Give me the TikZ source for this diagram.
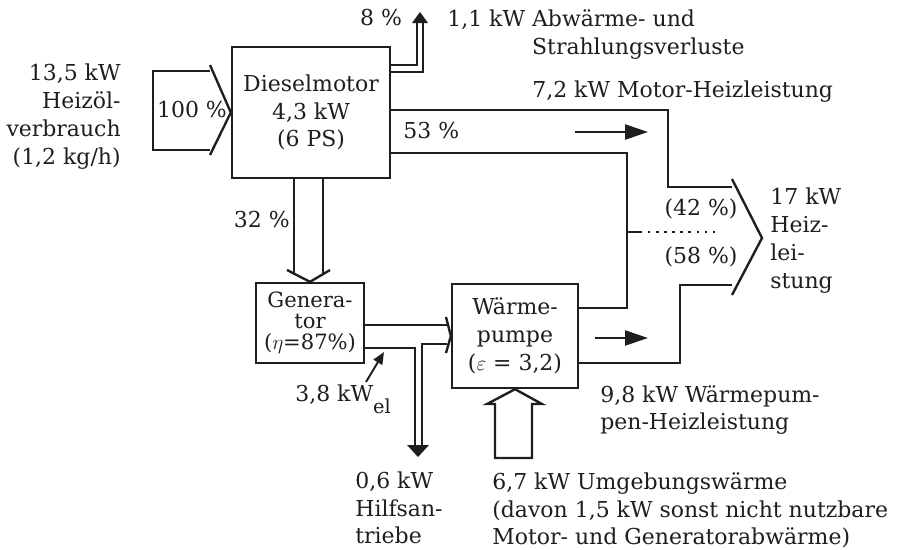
\documentclass[tikz,border=0pt]{standalone}
\usepackage{fontspec}
\setmainfont{DejaVu Serif}
\usepackage{tikz}
\usetikzlibrary{arrows.meta,positioning}
\definecolor{figInk}{HTML}{1E1E1E}

\begin{document}
\begin{tikzpicture}[x=0.02cm, y=-0.02cm,
  every node/.style={font=\fontsize{12.5}{15.8}\selectfont, text=figInk, inner sep=0pt},
  flow/.style={line width=1.35pt, draw=figInk},
  box/.style={draw=figInk, line width=1.35pt, align=center},
  note/.style={align=left},
  pfeil/.style={-{Triangle[length=4.6mm,width=3mm]}, line width=1.3pt, draw=figInk},
  zeiger/.style={-{Triangle[length=2.4mm,width=2mm]}, line width=1.1pt, draw=figInk},
]

\fill[white] (0,0) rectangle (905,549);
\useasboundingbox (0,0) rectangle (905,549);

% Boxes
\node[box, minimum width=3.16cm, minimum height=2.62cm] (motor) at (311,112.5)
  {Dieselmotor\\4,3 kW\\(6 PS)};
\node[box, minimum width=2.16cm, minimum height=1.6cm,
  font=\fontsize{12}{12}\selectfont] (gen) at (310,323)
  {Genera-\\tor\\($\eta$=87\%)};
\node[box, minimum width=2.52cm, minimum height=2.08cm] (hp) at (515,336)
  {Wärme-\\pumpe\\($\varepsilon$ = 3,2)};

% Fuel input
\draw[flow] (210,71) -- (153,71) -- (153,150) -- (210,150);
\draw[flow] (210,65) -- (motor.west) -- (210,155);
\node[anchor=base] (fuelpct) at (192,117) {100 \%};
\node[note, anchor=east, align=right] (fuel) at (121,116.5)
  {13,5 kW\\Heizöl-\\verbrauch\\(1,2 kg/h)};

% Losses
\draw[flow] (motor.east |- 0,65) -- (417,65) -- (417,22);
\draw[flow] (motor.east |- 0,72) -- (423,72) -- (423,22);
\fill[figInk] (412,23) -- (420,12) -- (428,23) -- cycle;
\node[anchor=base] (losspct) at (381,25) {8 \%};
\node[note, anchor=west] (loss) at (447,34.5)
  {1,1 kW Abwärme- und\\\hphantom{1,1 kW }Strahlungsverluste};

% Motor heat
\draw[flow] (motor.east |- 0,110) -- (668,110) -- (668,187) -- (732,187);
\draw[flow] (motor.east |- 0,153) -- (627,153) -- (627,308) -- (hp.east |- 0,308);
\draw[pfeil] (575,132) -- (648,132);
\node[anchor=base west] (motorpct) at (403,138) {53 \%};
\node[anchor=base west] (motorheat) at (532,97) {7,2 kW Motor-Heizleistung};

% Generator feed
\draw[flow] (294,178) -- (294,273);
\draw[flow] (323,178) -- (323,273);
\draw[flow] (287,270) -- (gen.north) -- (330,270);
\node[anchor=base east] (genpct) at (290,227) {32 \%};

% Electric power
\draw[flow] (gen.east |- 0,325) -- (447,325);
\draw[flow] (gen.east |- 0,348) -- (415,348) -- (415,446);
\draw[flow] (422,446) -- (422,344) -- (447,344);
\draw[flow] (446,317) -- (hp.west) -- (446,353);
\fill[figInk] (407,445) -- (429,445) -- (418,457) -- cycle;
\node[anchor=base west] (elec) at (295,401)
  {3,8 kW\raisebox{-7pt}{\fontsize{11}{11}\selectfont el}};
\draw[zeiger] (366,382) -- (384,352);
\node[note, anchor=west] (aux) at (355,508) {0,6 kW\\Hilfsan-\\triebe};

% Ambient heat
\draw[flow] (532,404) -- (542,404) -- (hp.south) -- (487,404) -- (495,404)
  -- (495,458) -- (532,458) -- cycle;
\node[note, anchor=west] (amb) at (492,510.5)
  {6,7 kW Umgebungswärme\\(davon 1,5 kW sonst nicht nutzbare\\Motor- und Generatorabwärme)};

% Heat pump output
\draw[flow] (hp.east |- 0,363) -- (680,363) -- (680,285) -- (732,285);
\draw[pfeil] (595,338) -- (648,338);
\node[note, anchor=west] (hpheat) at (600,410) {9,8 kW Wärmepum-\\pen-Heizleistung};

% Heat output
\draw[flow] (732,179) -- (762,238) -- (732,295);
\draw[flow] (627,232) -- (642,232);
\draw[figInk, line width=1.4pt, dash pattern=on 1.4pt off 3.2pt] (648,232) -- (720,232);
\node[anchor=base] (share1) at (701,215) {(42 \%)};
\node[anchor=base] (share2) at (701,263) {(58 \%)};
\node[note, anchor=west] (heat) at (770,240.5) {17 kW\\Heiz-\\lei-\\stung};

\end{tikzpicture}
\end{document}
